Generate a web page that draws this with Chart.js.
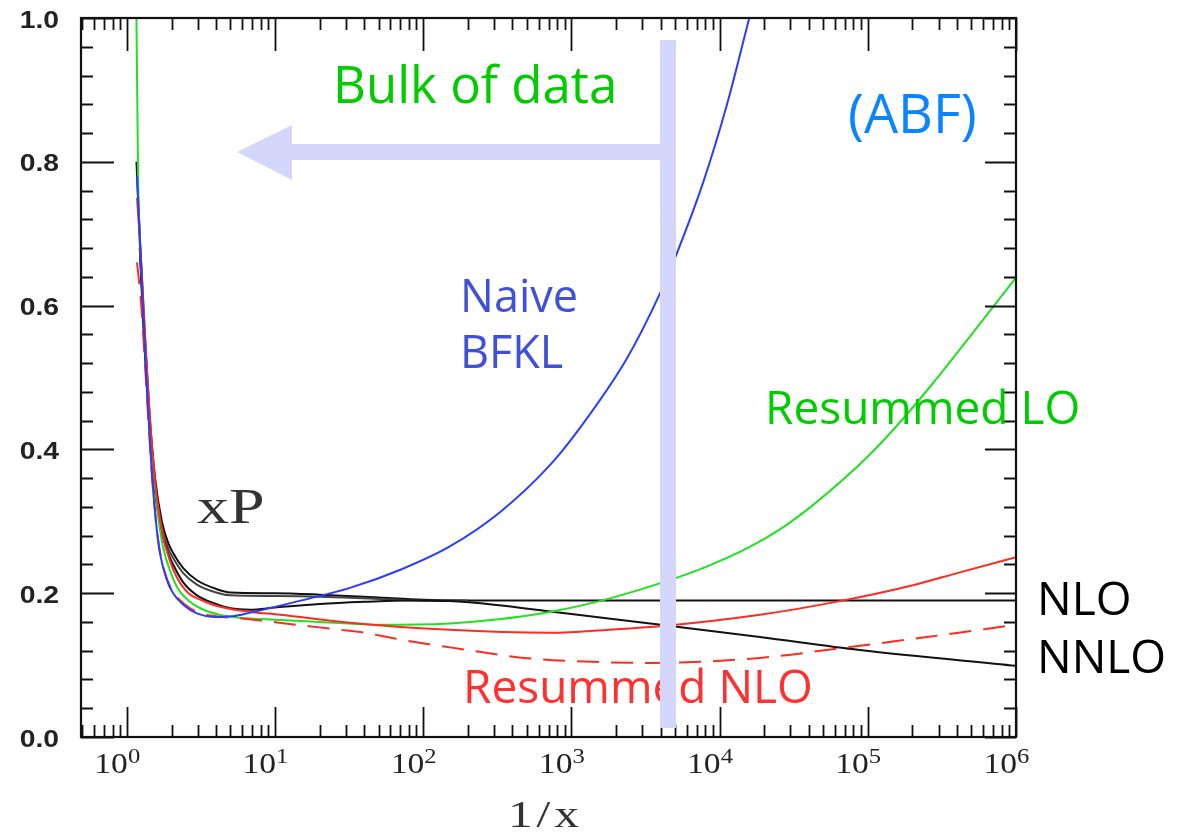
<!DOCTYPE html>
<html>
<head>
<meta charset="utf-8">
<script src="https://cdn.jsdelivr.net/npm/chart.js@4/dist/chart.umd.min.js"></script>
<style>
  html, body { margin: 0; padding: 0; background: #fff; }
</style>
</head>
<body>
<canvas id="chart" width="1178" height="832"></canvas>
<script>
// splitting function xP against 1/x, values as [1/x, xP]
const naiveBfkl = [[1.17,0.78],[1.25,0.65],[1.35,0.5],[1.47,0.37],[1.57,0.3],[1.67,0.256],[1.85,0.22],[2.05,0.2],[2.4,0.184],[2.97,0.172],[4,0.167],[5.2,0.168],[6.8,0.173],[10,0.181],[15.1,0.19],[31.6,0.207],[70.8,0.233],[151,0.265],[331,0.313],[708,0.377],[1096,0.425],[2344,0.525],[3981,0.618],[5129,0.672],[7762,0.772],[11220,0.88],[15850,1.0]];
const resummedLO = [[1.16,1.0],[1.19,0.78],[1.27,0.63],[1.37,0.5],[1.5,0.38],[1.62,0.31],[1.75,0.265],[1.95,0.232],[2.2,0.207],[2.6,0.19],[3.2,0.178],[4.2,0.17],[5.8,0.166],[10,0.163],[20,0.16],[51,0.156],[150,0.158],[300,0.163],[715,0.174],[1550,0.189],[3981,0.214],[7943,0.236],[15850,0.264],[26900,0.292],[44700,0.326],[97700,0.388],[162000,0.436],[275000,0.492],[468000,0.552],[1e6,0.639]];
const resummedNLO = [[1.17,0.75],[1.25,0.66],[1.35,0.53],[1.47,0.41],[1.6,0.33],[1.75,0.28],[1.95,0.245],[2.2,0.22],[2.6,0.2],[3.2,0.19],[3.8,0.184],[5,0.178],[6.8,0.174],[10.8,0.17],[32,0.159],[150,0.149],[715,0.145],[2025,0.15],[3950,0.154],[18700,0.17],[64700,0.189],[192000,0.21],[418000,0.229],[1e6,0.25]];
const resummedNLOalt = [[1.17,0.66],[1.25,0.6],[1.35,0.49],[1.47,0.37],[1.57,0.3],[1.67,0.258],[1.85,0.222],[2.05,0.202],[2.4,0.186],[2.97,0.174],[4,0.168],[5.8,0.165],[8,0.162],[14,0.156],[28,0.149],[40,0.145],[77,0.134],[200,0.121],[430,0.111],[930,0.106],[3400,0.103],[18700,0.11],[68000,0.124],[250000,0.139],[1e6,0.156]];
const nlo = [[1.16,0.8],[1.22,0.7],[1.3,0.58],[1.42,0.45],[1.55,0.36],[1.72,0.3],[1.9,0.27],[2.05,0.256],[2.4,0.235],[2.97,0.218],[4,0.206],[5,0.201],[10,0.2],[20,0.198],[50,0.194],[100,0.191],[200,0.19],[1e6,0.19]];
const nloBand = [[1.22,0.69],[1.3,0.57],[1.42,0.44],[1.55,0.35],[1.72,0.292],[1.9,0.262],[2.05,0.249],[2.4,0.228],[2.97,0.212],[4,0.201],[5,0.197],[10,0.196],[20,0.195],[50,0.192],[100,0.19],[200,0.19]];
const nnlo = [[1.22,0.68],[1.3,0.56],[1.42,0.43],[1.55,0.34],[1.72,0.285],[1.9,0.255],[2.05,0.24],[2.4,0.215],[2.97,0.197],[4,0.185],[5,0.179],[6.8,0.177],[10,0.18],[20,0.185],[40,0.188],[80,0.19],[150,0.189],[300,0.184],[700,0.175],[1000,0.171],[4000,0.156],[18700,0.139],[88000,0.121],[1e6,0.099]];

// axis ticks
const xDecades = [1, 10, 100, 1e3, 1e4, 1e5, 1e6];
const xDecadeExp = ['0', '1', '2', '3', '4', '5', '6'];
const yMajor = [0, 0.2, 0.4, 0.6, 0.8, 1.0];
const yMajorLabels = ['0.0', '0.2', '0.4', '0.6', '0.8', '1.0'];
const yMinorStep = 0.04;

const pts = arr => arr.map(p => ({ x: p[0], y: p[1] }));

function curve(data, color, dash) {
    return {
        data: pts(data),
        borderColor: color,
        borderWidth: 2,
        borderDash: dash || [],
        pointRadius: 0,
        cubicInterpolationMode: 'monotone',
        fill: false
    };
}

// stretched text, the plot's own lettering is wide
function wideText(ctx, txt, x, y, sx, align) {
    ctx.save();
    ctx.translate(x, y);
    ctx.scale(sx, 1);
    ctx.textAlign = align || 'left';
    ctx.fillText(txt, 0, 0);
    ctx.restore();
}

const framePlugin = {
    id: 'frame',
    afterDatasetsDraw(chart) {
        const ctx = chart.ctx;
        const sx = chart.scales.x, sy = chart.scales.y;
        const { left, right, top, bottom } = chart.chartArea;
        ctx.save();
        ctx.strokeStyle = '#111';
        ctx.lineWidth = 1.8;

        // x ticks, minor then decades, top and bottom
        ctx.beginPath();
        for (let d = 0.1; d < 1e6; d *= 10) {
            for (let m = 2; m <= 9; m++) {
                const v = m * d;
                if (v < sx.min || v > sx.max) continue;
                const px = Math.round(sx.getPixelForValue(v)) + 0.5;
                ctx.moveTo(px, bottom); ctx.lineTo(px, bottom - 12);
                ctx.moveTo(px, top); ctx.lineTo(px, top + 12);
            }
        }
        xDecades.forEach(v => {
            const px = Math.round(sx.getPixelForValue(v)) + 0.5;
            ctx.moveTo(px, bottom); ctx.lineTo(px, bottom - 30);
            ctx.moveTo(px, top); ctx.lineTo(px, top + 33);
        });
        // y ticks, left and right
        for (let v = 0; v <= 1.0001; v += yMinorStep) {
            const py = Math.round(sy.getPixelForValue(v)) + 0.5;
            ctx.moveTo(left, py); ctx.lineTo(left + 12, py);
            ctx.moveTo(right, py); ctx.lineTo(right - 12, py);
        }
        yMajor.forEach(v => {
            const py = Math.round(sy.getPixelForValue(v)) + 0.5;
            ctx.moveTo(left, py); ctx.lineTo(left + 33, py);
            ctx.moveTo(right, py); ctx.lineTo(right - 31, py);
        });
        ctx.stroke();

        ctx.lineWidth = 2.2;
        ctx.strokeRect(left, top, right - left, bottom - top);

        // tick labels
        ctx.fillStyle = '#222';
        ctx.textBaseline = 'middle';
        ctx.font = 'bold 24px "Liberation Sans"';
        yMajor.forEach((v, i) => {
            wideText(ctx, yMajorLabels[i], 59, sy.getPixelForValue(v) + 3, 1.18, 'right');
        });
        ctx.textBaseline = 'alphabetic';
        xDecades.forEach((v, i) => {
            const px = sx.getPixelForValue(v);
            ctx.font = '30px "Liberation Serif"';
            wideText(ctx, '10', px + 1, 773, 1.12, 'right');
            ctx.font = '22px "Liberation Serif"';
            wideText(ctx, xDecadeExp[i], px + 1, 763, 1.12, 'left');
        });

        // axis titles
        ctx.fillStyle = '#333';
        ctx.font = '38px "Liberation Serif"';
        ctx.letterSpacing = '3px';
        wideText(ctx, '1/x', 508, 827, 1.3, 'left');
        ctx.letterSpacing = '0px';
        ctx.font = '50px "Liberation Serif"';
        wideText(ctx, 'xP', 197, 523, 1.28, 'left');

        // curve labels
        ctx.font = '51px "Open Sans"';
        ctx.fillStyle = '#00cc00';
        ctx.fillText('Bulk of data', 333, 103);
        ctx.font = '54px "Open Sans"';
        ctx.fillStyle = '#0a84ff';
        ctx.fillText('(ABF)', 848, 133);
        ctx.font = '45px "Open Sans"';
        ctx.fillStyle = '#4050d8';
        ctx.fillText('Naive', 460, 312);
        ctx.fillText('BFKL', 460, 368);
        ctx.font = '46px "Open Sans"';
        ctx.fillStyle = '#00cc00';
        ctx.fillText('Resummed LO', 765, 424);
        ctx.fillStyle = '#ff3030';
        ctx.fillText('Resummed NLO', 463, 703);
        ctx.fillStyle = '#000';
        ctx.fillText('NLO', 1037, 615);
        ctx.fillText('NNLO', 1037, 673);

        // data-range marker with arrow
        ctx.fillStyle = '#d5d7fa';
        ctx.fillRect(660, 40, 16, 688);
        ctx.fillRect(290, 144, 370, 16);
        ctx.beginPath();
        ctx.moveTo(237, 152);
        ctx.lineTo(292, 125);
        ctx.lineTo(292, 180);
        ctx.closePath();
        ctx.fill();
        ctx.restore();
    }
};

new Chart(document.getElementById('chart'), {
    type: 'line',
    data: {
        datasets: [
            curve(naiveBfkl, '#2a3cff'),
            curve(resummedNLO, '#ff2a20'),
            curve(resummedNLOalt, '#ff2a20', [22, 12]),
            curve(resummedLO, '#22e022'),
            curve(nnlo, '#111'),
            curve(nloBand, '#444'),
            curve(nlo, '#111')
        ]
    },
    options: {
        responsive: false,
        animation: false,
        layout: { padding: { left: 81, top: 18, right: 162, bottom: 95 } },
        plugins: { legend: { display: false }, tooltip: { enabled: false } },
        scales: {
            x: { type: 'logarithmic', min: 0.49, max: 1e6, display: false },
            y: { type: 'linear', min: 0, max: 1, display: false }
        }
    },
    plugins: [framePlugin]
});
</script>
</body>
</html>
